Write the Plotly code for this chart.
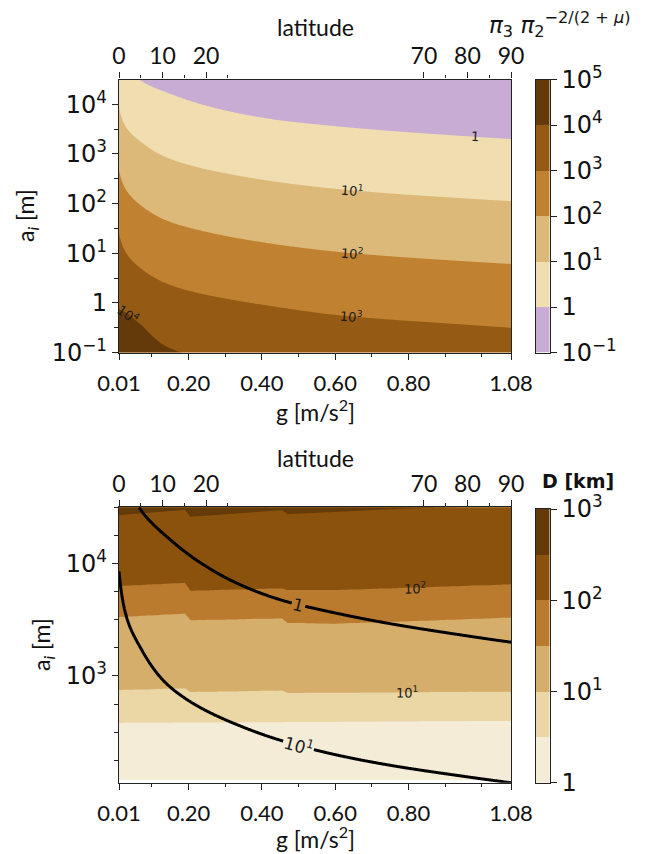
import numpy as np
import plotly.graph_objects as go

W, H = 650, 854

# ---------------- axes ----------------
g_range = [0.01, 1.08]
g_ticks = [0.01, 0.20, 0.40, 0.60, 0.80, 1.08]
g_tick_text = ["0.01", "0.20", "0.40", "0.60", "0.80", "1.08"]
g_minor_ticks = [0.1, 0.3, 0.5, 0.7, 0.9, 1.0]
lat_range = [0, 90]
lat_ticks = [0, 10, 20, 70, 80, 90]
lat_minor_ticks = [5, 15, 25, 75, 85]

top_loga_range = [-1, 4.5]
top_loga_ticks = [-1, 0, 1, 2, 3, 4]
top_loga_minor = [-0.5, 0.5, 1.5, 2.5, 3.5]
bot_loga_range = [2.05, 4.5]
bot_loga_ticks = [3, 4]
bot_loga_minor = [2.25, 2.5, 2.75, 3.25, 3.5, 3.75, 4.25, 4.5]

# ---------------- pi3 pi2^(-2/(2+mu)) : log10(a_i) of each level boundary vs g ----------------
g_nodes_pi = [0.01, 0.03, 0.067, 0.14, 0.231, 0.322, 0.458, 0.586, 0.741, 0.922, 1.08]
pi_levels = [0, 1, 2, 3, 4]          # log10 of the level value
pi_bound_0 = [5.20, 4.77, 4.49, 4.24, 4.01, 3.84, 3.67, 3.57, 3.47, 3.375, 3.30]
pi_bound_1 = [3.93, 3.53, 3.26, 2.93, 2.72, 2.58, 2.42, 2.31, 2.21, 2.12, 2.05]
pi_bound_2 = [2.67, 2.27, 1.98, 1.66, 1.46, 1.32, 1.16, 1.045, 0.945, 0.855, 0.785]
pi_bound_3 = [1.40, 1.00, 0.71, 0.39, 0.19, 0.06, -0.10, -0.23, -0.33, -0.42, -0.50]
pi_bound_4 = [-0.12, -0.20, -0.42, -0.88, -1.10, -1.23, -1.40, -1.52, -1.60, -1.70, -1.77]
pi_bounds = [pi_bound_0, pi_bound_1, pi_bound_2, pi_bound_3, pi_bound_4]
pi_cbar_edges = [-1, 0, 1, 2, 3, 4, 5]
pi_colors = ["#c8acd4", "#f0ddb0", "#dcb978", "#c08230", "#955a13", "#653a0a"]

# ---------------- crater diameter D [km] : log10(a_i) of each level boundary vs g ----------------
g_nodes_D = [0.01, 0.19, 0.205, 0.455, 0.47, 0.60, 0.80, 1.08]
D_levels = [0.5, 1.0, 1.5, 2.0, 2.5]  # log10(D)
D_bound_05 = [2.582, 2.585, 2.585, 2.588, 2.591, 2.591, 2.595, 2.600]
D_bound_10 = [2.873, 2.888, 2.855, 2.868, 2.846, 2.849, 2.853, 2.858]
D_bound_15 = [3.525, 3.555, 3.496, 3.513, 3.472, 3.466, 3.487, 3.520]
D_bound_20 = [3.798, 3.827, 3.756, 3.778, 3.762, 3.762, 3.783, 3.813]
D_bound_25 = [4.430, 4.477, 4.415, 4.474, 4.439, 4.459, 4.490, 4.510]
D_bounds = [D_bound_05, D_bound_10, D_bound_15, D_bound_20, D_bound_25]
D_data_loga_min = 2.075
D_cbar_edges = [0, 0.5, 1.0, 1.5, 2.0, 2.5, 3.0]
D_cbar_ticks = [0, 1, 2, 3]
D_colors = ["#f5ecd8", "#ebd7a5", "#d6ae6c", "#ba7b2f", "#8b520e", "#643a09"]

# label placement along the boundaries (g value per level)
pi_label_g = [0.982, 0.645, 0.645, 0.645, 0.035]
D_label_g = [None, 0.797, None, 0.818, None]
line_label_g = [0.499, 0.499]          # black pi lines: levels 0 and 1

# ---------------- layout geometry ----------------
X0, X1 = 119 / W, 511 / W
TOP_Y = [1 - 352.6 / H, 1 - 79.5 / H]
BOT_Y = [1 - 782.7 / H, 1 - 507.3 / H]
CB_X = [536 / W, 549.5 / W]
CB_BOT_Y = [1 - 782.7 / H, 1 - 509 / H]

AXIS_COL = "#222222"
TICK_FONT = dict(family="DejaVu Sans", size=24, color="#111111")
TEXT_FONT = dict(family="Lato", size=22, color="#111111")


def dec_label(n):
    if n == 0:
        return "1"
    return "10<sup>%s</sup>" % (str(n).replace("-", "\u2212"))


def pchip(xn, yn, x):
    """Monotone cubic (Fritsch-Carlson) interpolation."""
    xn = np.asarray(xn, float)
    yn = np.asarray(yn, float)
    x = np.asarray(x, float)
    h = np.diff(xn)
    delta = np.diff(yn) / h
    n = len(xn)
    d = np.zeros(n)
    for k in range(1, n - 1):
        if delta[k - 1] * delta[k] > 0:
            w1 = 2 * h[k] + h[k - 1]
            w2 = h[k] + 2 * h[k - 1]
            d[k] = (w1 + w2) / (w1 / delta[k - 1] + w2 / delta[k])
    d[0] = delta[0]
    d[-1] = delta[-1]
    idx = np.clip(np.searchsorted(xn, x) - 1, 0, n - 2)
    t = (x - xn[idx]) / h[idx]
    h00 = 2 * t**3 - 3 * t**2 + 1
    h10 = t**3 - 2 * t**2 + t
    h01 = -2 * t**3 + 3 * t**2
    h11 = t**3 - t**2
    return h00 * yn[idx] + h10 * h[idx] * d[idx] + h01 * yn[idx + 1] + h11 * h[idx] * d[idx + 1]


def bound_smooth(g, nodes, bound):
    # smooth curve through the boundary points, in log10(g)
    return pchip(np.log10(nodes), bound, np.log10(np.atleast_1d(g)))


def bound_linear(g, nodes, bound):
    return np.interp(np.atleast_1d(g), nodes, bound)


def build_field(g_nodes, levels, bounds, g_grid, loga_grid, along):
    """log10 of the mapped quantity on a (loga, g) grid, interpolated
    between the level boundaries column by column."""
    B = np.array([along(g_grid, g_nodes, b) for b in bounds])
    lev = np.array(levels, float)
    step = lev[1] - lev[0]
    ll = np.concatenate([[lev[0] - step], lev, [lev[-1] + step]])
    Z = np.empty((len(loga_grid), len(g_grid)))
    for j in range(len(g_grid)):
        b = B[:, j]
        bb = np.concatenate([[b[0] + (b[0] - b[1])], b, [b[-1] - (b[-2] - b[-1])]])
        if bb[0] < bb[-1]:
            Z[:, j] = np.interp(loga_grid, bb, ll)
        else:
            Z[:, j] = np.interp(loga_grid, bb[::-1], ll[::-1])
    return Z


def fill_scale(colors):
    # contour fills are sampled at 0.1, 0.3, 0.5, 0.7, 0.9 and >=1
    stops = [0, 0.2, 0.4, 0.6, 0.8, 0.95, 1.0]
    cs = []
    for i, c in enumerate(colors):
        cs.append([stops[i], c])
        cs.append([stops[i + 1], c])
    return cs


def step_scale(colors):
    n = len(colors)
    cs = []
    for i, c in enumerate(colors):
        cs.append([i / n, c])
        cs.append([(i + 1) / n, c])
    return cs


g_grid = np.linspace(g_range[0], g_range[1], 430)
loga_top = np.linspace(top_loga_range[0], top_loga_range[1], 340)
loga_bot_fill = np.linspace(D_data_loga_min, bot_loga_range[1], 260)
loga_bot_line = np.linspace(bot_loga_range[0], bot_loga_range[1], 300)

Z_pi_top = build_field(g_nodes_pi, pi_levels, pi_bounds, g_grid, loga_top, bound_smooth)
Z_D = build_field(g_nodes_D, D_levels, D_bounds, g_grid, loga_bot_fill, bound_linear)
Z_pi_bot = build_field(g_nodes_pi, pi_levels, pi_bounds, g_grid, loga_bot_line, bound_smooth)

fig = go.Figure()

# top panel: filled pi contours
fig.add_trace(go.Contour(
    x=g_grid, y=loga_top, z=Z_pi_top, xaxis="x", yaxis="y",
    contours=dict(start=0, end=4, size=1, coloring="fill", showlines=False),
    colorscale=fill_scale(pi_colors), showscale=False, line_width=0,
    hoverinfo="skip"))
fig.add_trace(go.Scatter(x=lat_range, y=top_loga_range, xaxis="x2", yaxis="y",
                         mode="markers", marker=dict(opacity=0), hoverinfo="skip",
                         showlegend=False))

# bottom panel: filled D contours + black pi lines
fig.add_trace(go.Contour(
    x=g_grid, y=loga_bot_fill, z=Z_D, xaxis="x3", yaxis="y3",
    contours=dict(start=0.5, end=2.5, size=0.5, coloring="fill", showlines=False),
    colorscale=fill_scale(D_colors), showscale=False, line_width=0,
    hoverinfo="skip"))
fig.add_trace(go.Contour(
    x=g_grid, y=loga_bot_line, z=Z_pi_bot, xaxis="x3", yaxis="y3",
    contours=dict(start=0, end=1, size=1, coloring="none"),
    line=dict(color="black", width=3), showscale=False, hoverinfo="skip"))
fig.add_trace(go.Scatter(x=lat_range, y=bot_loga_range, xaxis="x4", yaxis="y3",
                         mode="markers", marker=dict(opacity=0), hoverinfo="skip",
                         showlegend=False))

# colour bars
fig.add_trace(go.Heatmap(
    x=[0, 1], y=pi_cbar_edges, z=[[i] for i in range(len(pi_colors))],
    xaxis="x5", yaxis="y5", colorscale=step_scale(pi_colors),
    zmin=-0.5, zmax=len(pi_colors) - 0.5, showscale=False, hoverinfo="skip"))
fig.add_trace(go.Heatmap(
    x=[0, 1], y=D_cbar_edges, z=[[i] for i in range(len(D_colors))],
    xaxis="x6", yaxis="y6", colorscale=step_scale(D_colors),
    zmin=-0.5, zmax=len(D_colors) - 0.5, showscale=False, hoverinfo="skip"))


def g_axis(anchor):
    return dict(domain=[X0, X1], anchor=anchor, range=g_range, tickmode="array",
                tickvals=g_ticks, ticktext=g_tick_text, ticks="outside", ticklen=6,
                tickwidth=1.2, tickcolor=AXIS_COL, showline=True, linecolor=AXIS_COL,
                linewidth=1.3, mirror=True, showgrid=False, zeroline=False,
                tickfont=TEXT_FONT, ticklabelstandoff=5, automargin=False,
                minor=dict(tickmode="array", tickvals=g_minor_ticks, ticks="outside",
                           ticklen=3.5, tickwidth=1, tickcolor=AXIS_COL))


def lat_axis(over, anchor):
    return dict(overlaying=over, anchor=anchor, side="top", range=lat_range,
                tickmode="array", tickvals=lat_ticks, ticks="outside", ticklen=6,
                tickwidth=1.2, tickcolor=AXIS_COL, showline=True, linecolor=AXIS_COL,
                linewidth=1.3, showgrid=False, zeroline=False,
                tickfont=dict(family="Lato", size=23, color="#111111"),
                ticklabelstandoff=-1, automargin=False,
                minor=dict(tickmode="array", tickvals=lat_minor_ticks, ticks="outside",
                           ticklen=3.5, tickwidth=1, tickcolor=AXIS_COL))


def loga_axis(domain, anchor, rng, ticks, minor):
    return dict(domain=domain, anchor=anchor, range=rng, tickmode="array",
                tickvals=ticks, ticktext=[dec_label(t) for t in ticks],
                ticks="outside", ticklen=6, tickwidth=1.2, tickcolor=AXIS_COL,
                showline=True, linecolor=AXIS_COL, linewidth=1.3, mirror=True,
                showgrid=False, zeroline=False, tickfont=TICK_FONT, automargin=False,
                minor=dict(tickmode="array", tickvals=minor, ticks="outside",
                           ticklen=3.5, tickwidth=1, tickcolor=AXIS_COL))


def cbar_axes(ydomain, anchor_x, anchor_y, edges, ticks):
    xa = dict(domain=CB_X, anchor=anchor_y, range=[0, 1], showticklabels=False,
              ticks="", showline=True, linecolor=AXIS_COL, linewidth=1.2, mirror=True,
              showgrid=False, zeroline=False, fixedrange=True, automargin=False)
    ya = dict(domain=ydomain, anchor=anchor_x, side="right", range=[edges[0], edges[-1]],
              tickmode="array", tickvals=ticks, ticktext=[dec_label(t) for t in ticks],
              ticks="outside", ticklen=6, tickwidth=1.2, tickcolor=AXIS_COL,
              showline=True, linecolor=AXIS_COL, linewidth=1.2, mirror=True,
              showgrid=False, zeroline=False, tickfont=TICK_FONT, fixedrange=True,
              automargin=False)
    return xa, ya


cb5x, cb5y = cbar_axes(TOP_Y, "x5", "y5", pi_cbar_edges, pi_cbar_edges)
cb6x, cb6y = cbar_axes(CB_BOT_Y, "x6", "y6", D_cbar_edges, D_cbar_ticks)

fig.update_layout(
    width=W, height=H, margin=dict(l=0, r=0, t=0, b=0, autoexpand=False),
    paper_bgcolor="white", plot_bgcolor="white", showlegend=False,
    xaxis=g_axis("y"), xaxis2=lat_axis("x", "y"),
    yaxis=loga_axis(TOP_Y, "x", top_loga_range, top_loga_ticks, top_loga_minor),
    xaxis3=g_axis("y3"), xaxis4=lat_axis("x3", "y3"),
    yaxis3=loga_axis(BOT_Y, "x3", bot_loga_range, bot_loga_ticks, bot_loga_minor),
    xaxis5=cb5x, yaxis5=cb5y, xaxis6=cb6x, yaxis6=cb6y,
)

# ---------------- text: titles ----------------
ann = []
xc = (X0 + X1) / 2
TITLE_FONT = dict(family="Lato", size=23, color="#111")


def paper_text(text, x_px, y_px, font, angle=0, xanchor="center"):
    return dict(text=text, x=x_px / W, y=1 - y_px / H, xref="paper", yref="paper",
                xanchor=xanchor, yanchor="middle", showarrow=False, textangle=angle,
                font=font)


xc_px = xc * W
for ytxt in (27, 458):
    ann.append(paper_text("latitude", xc_px, ytxt, TITLE_FONT))
for ytxt in (410, 837):
    ann.append(paper_text("g [m/s<sup>2</sup>]", xc_px, ytxt, TITLE_FONT))
for xtxt, yd in ((26, TOP_Y), (42, BOT_Y)):
    ann.append(paper_text("a<sub><i>i</i></sub> [m]", xtxt, (1 - sum(yd) / 2) * H,
                          TITLE_FONT, angle=-90))
ann.append(paper_text(
    "<i>\u03c0</i><sub>3</sub> <i>\u03c0</i><sub>2</sub><sup>\u22122/(2 + <i>\u03bc</i>)</sup>",
    487, 24, dict(family="DejaVu Sans", size=23, color="#111"), xanchor="left"))
ann.append(paper_text("<b>D [km]</b>", 540, 481,
                      dict(family="DejaVu Sans", size=19, color="#111"), xanchor="left"))

# ---------------- contour labels ----------------
px_g = (X1 - X0) * W / (g_range[1] - g_range[0])
px_dec_top = (TOP_Y[1] - TOP_Y[0]) * H / (top_loga_range[1] - top_loga_range[0])
px_dec_bot = (BOT_Y[1] - BOT_Y[0]) * H / (bot_loga_range[1] - bot_loga_range[0])


def slope_angle(g, nodes, bound, px_dec, along):
    d = 0.01
    s = float(along(g + d, nodes, bound)[0] - along(g - d, nodes, bound)[0]) / (2 * d)
    return float(np.degrees(np.arctan(-s * px_dec / px_g)))


def data_text(text, g, loga, xr, yr, angle, size, bg=None):
    d = dict(text=text, x=g, y=loga, xref=xr, yref=yr, xanchor="center",
             yanchor="middle", showarrow=False, textangle=angle,
             font=dict(family="DejaVu Sans", size=size, color="#1a1a1a"))
    if bg is not None:
        d.update(bgcolor=bg, borderpad=1)
    return d


for k, gl in enumerate(pi_label_g):
    yl = float(bound_smooth(gl, g_nodes_pi, pi_bounds[k])[0])
    ann.append(data_text(dec_label(pi_levels[k]), gl, yl, "x", "y",
                         slope_angle(gl, g_nodes_pi, pi_bounds[k], px_dec_top, bound_smooth), 13))

for k, gl in enumerate(D_label_g):
    if gl is None:
        continue
    yl = float(bound_linear(gl, g_nodes_D, D_bounds[k])[0])
    ann.append(data_text(dec_label(int(D_levels[k])), gl, yl, "x3", "y3",
                         slope_angle(gl, g_nodes_D, D_bounds[k], px_dec_bot, bound_linear), 13))

for k, gl in enumerate(line_label_g):
    yl = float(bound_smooth(gl, g_nodes_pi, pi_bounds[k])[0])
    band = int(sum(yl > bound_linear(gl, g_nodes_D, b)[0] for b in D_bounds))
    ann.append(data_text(dec_label(pi_levels[k]), gl, yl, "x3", "y3",
                         slope_angle(gl, g_nodes_pi, pi_bounds[k], px_dec_bot, bound_smooth),
                         17, bg=D_colors[band]))

fig.update_layout(annotations=ann)
fig.write_html("out.html")
